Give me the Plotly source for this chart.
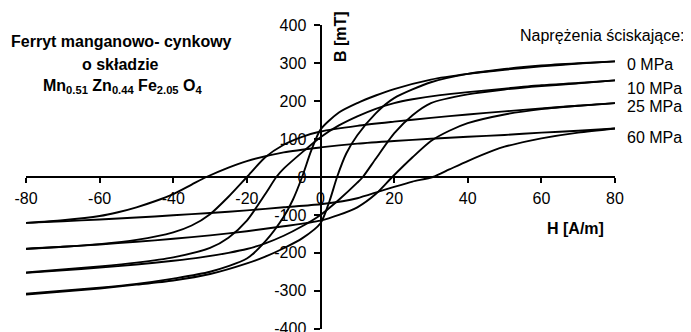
import plotly.graph_objects as go

# ---------------- data ----------------
X_TICKS = [-80, -60, -40, -20, 0, 20, 40, 60, 80]
X_TICK_TEXT = ["-80", "-60", "-40", "-20", "0", "20", "40", "60", "80"]
Y_TICKS = [-400, -300, -200, -100, 0, 100, 200, 300, 400]
Y_TICK_TEXT = ["-400", "-300", "-200", "-100", "0", "100", "200", "300", "400"]

# 0 MPa
H_UP_0 = [80, 70, 60, 50, 40, 30, 20, 15, 10, 5, 0, -2.5, -5, -7.5, -10, -15, -20, -30, -40, -50, -60, -70, -80]
B_UP_0 = [305, 299, 292, 283, 272, 257, 232, 215, 195, 170, 125, 70, 0, -60, -105, -170, -215, -250, -268, -282, -292, -300, -308]
H_LO_0 = [-80, -70, -60, -50, -40, -30, -20, -15, -10, -5, 0, 2.5, 4.5, 7, 10, 15, 20, 30, 40, 50, 60, 70, 80]
B_LO_0 = [-310, -302, -294, -284, -273, -256, -228, -210, -188, -162, -122, -62, 0, 62, 110, 168, 208, 250, 272, 285, 294, 300, 305]

# 10 MPa
H_UP_10 = [80, 70, 60, 50, 40, 32.5, 25, 20, 15, 10, 5, 0, -5, -10, -12, -15, -20, -25, -30, -40, -50, -60, -70, -80]
B_UP_10 = [255, 248, 242, 233, 224, 216, 205, 195, 180, 160, 136, 105, 65, 22, 0, -45, -115, -160, -187, -212, -226, -236, -244, -252]
H_LO_10 = [-80, -70, -60, -50, -40, -32.5, -25, -20, -15, -10, -5, 0, 5, 10, 11.5, 15, 20, 25, 30, 40, 50, 60, 70, 80]
B_LO_10 = [-253, -246, -239, -231, -221, -212, -200, -190, -175, -155, -130, -100, -60, -15, 0, 48, 115, 163, 195, 218, 231, 240, 247, 255]

# 25 MPa
H_UP_25 = [80, 70, 60, 50, 40, 30, 20, 10, 0, -5, -10, -15, -20, -25, -30, -35, -40, -50, -60, -70, -80]
B_UP_25 = [195, 188, 181, 173, 165, 156, 146, 135, 120, 106, 85, 52, 0, -52, -98, -128, -146, -166, -177, -184, -189]
H_LO_25 = [-80, -70, -60, -50, -40, -30, -20, -10, 0, 5, 10, 15, 19.5, 25, 30, 35, 40, 50, 60, 70, 80]
B_LO_25 = [-190, -184, -178, -171, -163, -154, -143, -130, -115, -100, -80, -45, 0, 52, 95, 122, 142, 165, 179, 188, 195]

# 60 MPa
H_UP_60 = [80, 70, 60, 50, 40, 30, 20, 10, 0, -10, -20, -25, -31, -35, -40, -45, -50, -55, -60, -70, -80]
B_UP_60 = [128, 122, 117, 111, 106, 101, 95, 88, 78, 65, 42, 25, 0, -20, -45, -64, -80, -93, -103, -114, -121]
H_LO_60 = [-80, -70, -60, -50, -40, -30, -20, -10, 0, 6, 10, 16, 20, 25, 30.5, 35, 40, 47, 50, 57, 60, 70, 80]
B_LO_60 = [-121, -117, -112, -107, -101, -95, -88, -80, -72, -64, -56, -38, -26, -12, 0, 20, 42, 70, 80, 96, 102, 117, 128]

STRESS_LABELS = ["0 MPa", "10 MPa", "25 MPa", "60 MPa"]
TITLE_LINES = ["Ferryt manganowo- cynkowy", "o składzie",
               "Mn<sub>0.51</sub> Zn<sub>0.44</sub> Fe<sub>2.05</sub> O<sub>4</sub>"]
LEGEND_TITLE = "Naprężenia ściskające:"

# ---------------- figure ----------------
OFF = 8                      # default page body margin
W, H = 691 - OFF, 332 - OFF  # figure size
PL, PR, PT, PB = 26, 615, 25, 329   # plot area in page pixels
ML, MT = PL - OFF, PT - OFF
MR, MB = W - (PR - OFF), H - (PB - OFF)
PW, PH = PR - PL, PB - PT


def px(x):
    return (x - PL) / PW


def py(y):
    return (PB - y) / PH


FONT = "Liberation Sans, Arial, sans-serif"
fig = go.Figure()
branches = [(H_UP_0, B_UP_0), (H_LO_0, B_LO_0), (H_UP_10, B_UP_10), (H_LO_10, B_LO_10),
            (H_UP_25, B_UP_25), (H_LO_25, B_LO_25), (H_UP_60, B_UP_60), (H_LO_60, B_LO_60)]
for hx, by in branches:
    fig.add_trace(go.Scatter(x=hx, y=by, mode="lines",
                             line=dict(color="black", width=1.9, shape="spline", smoothing=0.7),
                             hoverinfo="skip"))

fig.update_layout(
    width=W, height=H, margin=dict(l=ML, r=MR, t=MT, b=MB, autoexpand=False),
    plot_bgcolor="white", paper_bgcolor="white", showlegend=False,
    font=dict(family=FONT, size=16, color="black"),
    xaxis=dict(range=[-80, 80], anchor="free", position=0.5, showline=True, linecolor="black",
               linewidth=2, ticks="outside", ticklen=5, tickwidth=2, tickcolor="black",
               tickvals=X_TICKS, ticktext=X_TICK_TEXT, showgrid=False, zeroline=False,
               ticklabelstandoff=2, tickfont=dict(family=FONT, size=16, color="black")),
    yaxis=dict(range=[-401, 401], anchor="free", position=0.5, showline=True, linecolor="black",
               linewidth=2, ticks="outside", ticklen=6, tickwidth=2, tickcolor="black",
               tickvals=Y_TICKS, ticktext=Y_TICK_TEXT, showgrid=False, zeroline=False,
               ticklabelstandoff=4, ticklabeloverflow="allow",
               tickfont=dict(family=FONT, size=16, color="black")),
)

ann = []
for text, (cx, cy) in zip(TITLE_LINES, [(121, 41), (120, 65), (122, 86)]):
    ann.append(dict(text="<b>" + text + "</b>", x=px(cx), y=py(cy), xanchor="center", yanchor="middle"))
ann.append(dict(text="<b>B [mT]</b>", x=px(340), y=py(37), textangle=-90, xanchor="center",
                yanchor="middle"))
ann.append(dict(text="<b>H [A/m]</b>", x=px(575), y=py(228), xanchor="center", yanchor="middle"))
ann.append(dict(text=LEGEND_TITLE, x=px(518), y=py(35), xanchor="left", yanchor="middle"))
for text, cy in zip(STRESS_LABELS, [65, 88, 106, 137]):
    ann.append(dict(text=text, x=px(625), y=py(cy), xanchor="left", yanchor="middle"))
for a in ann:
    a.update(xref="paper", yref="paper", showarrow=False,
             font=dict(family=FONT, size=16, color="black"))
fig.update_layout(annotations=ann)

fig.write_html("out.html")
